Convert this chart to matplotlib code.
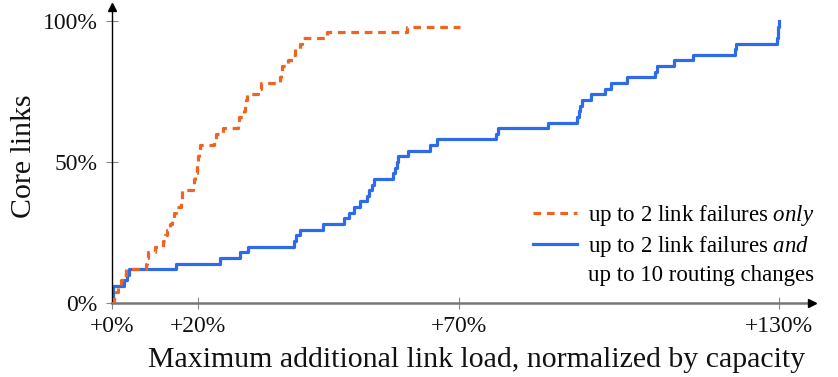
import numpy as np
import matplotlib
matplotlib.use("Agg")
import matplotlib.pyplot as plt
from matplotlib.lines import Line2D

# ---------------- data ----------------
# Blue: up to 2 link failures and up to 10 routing changes (step CDF, % of core links)
blue_x = [0.0, 0.1, 0.2, 2.7, 3.35, 3.9, 14.7, 24.2, 28.0, 29.5,
          38.3, 38.7, 39.5, 43.9, 47.9, 48.9, 49.8, 51.0, 52.3, 52.7,
          53.3, 53.7, 57.3, 57.7, 58.1, 58.3, 60.2, 64.4, 65.8, 76.9,
          77.3, 86.6, 92.1, 92.5, 92.6, 93.0, 94.7, 97.3, 98.5, 101.5,
          106.7, 107.1, 110.3, 113.9, 121.7, 121.9, 129.6, 129.8, 129.9, 130.0]
blue_y = [2, 4, 6, 8, 10, 12, 14, 16, 18, 20,
          22, 24, 26, 28, 30, 32, 34, 36, 38, 40,
          42, 44, 46, 48, 50, 52, 54, 56, 58, 60,
          62, 64, 66, 68, 70, 72, 74, 76, 78, 80,
          82, 84, 86, 88, 90, 92, 94, 96, 98, 100]

# Orange: up to 2 link failures only
orange_x = [0.3, 0.8, 1.4, 2.0, 2.8, 3.3, 7.8, 8.0, 8.2, 9.9,
            11.8, 12.3, 12.7, 13.4, 13.9, 14.3, 14.8, 16.0, 16.1, 16.2,
            18.8, 19.0, 19.2, 19.6, 19.8, 19.9, 20.2, 20.4, 23.1, 23.4,
            24.8, 27.7, 27.8, 28.7, 28.9, 29.2, 29.4, 31.4, 32.0, 35.6,
            35.8, 36.0, 37.2, 38.1, 38.5, 39.5, 39.9, 44.7, 60.0, 70.1]
orange_y = [2, 4, 6, 8, 10, 12, 14, 16, 18, 20,
            22, 24, 26, 28, 30, 32, 34, 36, 38, 40,
            42, 44, 46, 48, 50, 52, 54, 56, 58, 60,
            62, 64, 66, 68, 70, 72, 74, 76, 78, 80,
            82, 84, 86, 88, 90, 92, 94, 96, 98, 98]

x_ticks = [0, 20, 70, 130]
x_tick_labels = ["+0%", "+20%", "+70%", "+130%"]
y_ticks = [0, 50, 100]
y_tick_labels = ["0%", "50%", "100%"]

legend_labels = ["up to 2 link failures $\\mathit{only}$",
                 "up to 2 link failures $\\mathit{and}$",
                 "up to 10 routing changes"]

# ---------------- style ----------------
plt.rcParams['font.family'] = ['Liberation Serif', 'DejaVu Serif']
plt.rcParams['mathtext.fontset'] = 'custom'
plt.rcParams['mathtext.rm'] = 'Liberation Serif'
plt.rcParams['mathtext.it'] = 'Liberation Serif:italic'

ORANGE = '#EE6420'
BLUE = '#2D6BEA'
TXT = '#111111'

# piecewise-linear axis (the reference tick spacing is non-uniform)
_kx = np.array([-20.0, 0.0, 20.0, 70.0, 130.0, 200.0])
_kp = np.array([-86.0, 0.0, 86.0, 347.0, 666.7, 1039.8])

def fwd(x):
    return np.interp(x, _kx, _kp)

def inv(p):
    return np.interp(p, _kp, _kx)

fig = plt.figure(figsize=(8.38, 3.77), dpi=100)
ax = fig.add_axes([112.3 / 838, 74 / 377, (812 - 112.3) / 838, (303 - 7) / 377])
ax.set_xscale('function', functions=(fwd, inv))

bx = [0.0] + blue_x
by = [0] + blue_y
ox = [0.0] + orange_x
oy = [0] + orange_y

l_or, = ax.plot(ox, oy, drawstyle='steps-post', color=ORANGE, lw=2.3,
                dashes=(2.4, 1.8), zorder=3)
l_bl, = ax.plot(bx, by, drawstyle='steps-post', color=BLUE, lw=2.3, zorder=2)

ax.set_xlim(0, inv(812 - 112.3))
ax.set_ylim(0, (303 - 7) / 2.82)

for s in ['top', 'right']:
    ax.spines[s].set_visible(False)
ax.spines['left'].set_color('black')
ax.spines['left'].set_linewidth(1.0)
ax.spines['bottom'].set_color('#777777')
ax.spines['bottom'].set_linewidth(1.8)

# arrow heads
ax.plot(1, 0, marker='>', color='black', markersize=6, transform=ax.transAxes,
        clip_on=False, zorder=5)
ax.plot(0, 1, marker='^', color='black', markersize=6, transform=ax.transAxes,
        clip_on=False, zorder=5)

ax.set_xticks(x_ticks)
ax.set_xticklabels(x_tick_labels)
ax.set_yticks(y_ticks)
ax.set_yticklabels(y_tick_labels)
ax.xaxis.set_minor_locator(matplotlib.ticker.NullLocator())
ax.tick_params(axis='both', direction='inout', length=9, width=0.8,
               color='#888888', labelsize=17, labelcolor=TXT)
ax.tick_params(axis='y', pad=6)
ax.tick_params(axis='x', pad=5)

ax.set_xlabel("Maximum additional link load, normalized by capacity",
              fontsize=21.5, color=TXT)
ax.xaxis.set_label_coords(0.52, -0.15)
ax.set_ylabel("Core links", fontsize=21.5, color=TXT)
ax.yaxis.set_label_coords(-0.108, 0.497)

blank = Line2D([], [], color='none')
leg = ax.legend(handles=[l_or, l_bl, blank], labels=legend_labels,
                loc='lower right', bbox_to_anchor=(1.017, 0.025), frameon=False,
                fontsize=16.5, handlelength=1.96, handletextpad=0.48,
                labelspacing=0.28, borderaxespad=0.0)

fig.savefig('out.png', dpi=100)
